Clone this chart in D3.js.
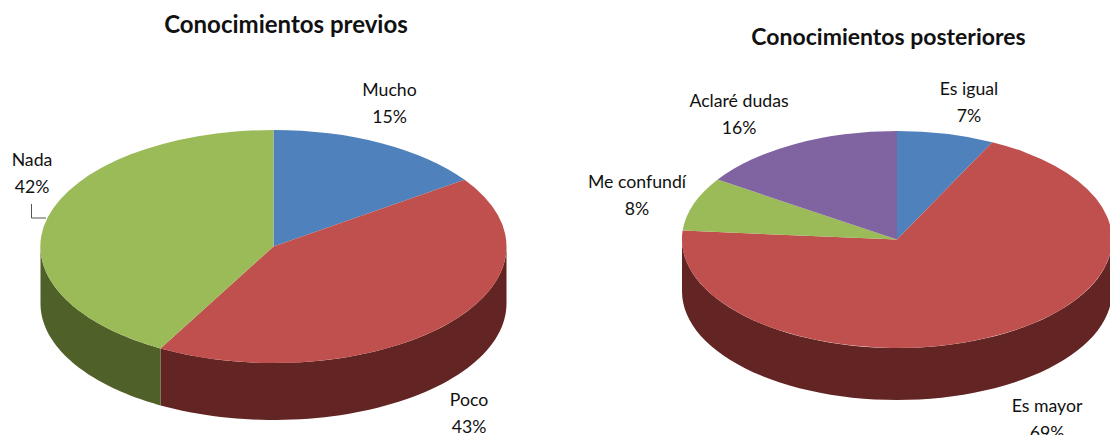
<!DOCTYPE html>
<html><head><meta charset="utf-8">
<script src="https://cdn.jsdelivr.net/npm/d3@7"></script>
<style>html,body{margin:0;background:#fff}svg{display:block}text{font-family:Lato,"Open Sans",sans-serif;font-size:17.7px;fill:#111}</style>
</head><body><svg width="1110" height="435"></svg>
<script>
const categoriesPrev = ["Mucho","Poco","Nada"];
const valuesPrev = [15.3,42.75,41.95];
const categoriesPost = ["Es igual","Es mayor","Me confundí","Aclaré dudas"];
const valuesPost = [7.3,69,8.0,15.7];
const colorsPrev = ["#4f81bd","#c0504d","#9bbb59"];
const darkPrev = ["#2a4565","#632523","#4f6128"];
const colorsPost = ["#4f81bd","#c0504d","#9bbb59","#8064a2"];
const darkPost = ["#2a4565","#632523","#4f6128","#403152"];

const svg = d3.select("svg");
const pct = d3.format(".0f");

function drawPie(o){
  const g = svg.append("g");
  const slices = d3.pie().sort(null)(o.values);
  const px = a => o.cx + o.rx*Math.sin(a);
  const py = a => o.cy - o.ry*Math.cos(a);
  slices.forEach((s,i)=>{
    const a0 = Math.max(s.startAngle, Math.PI/2), a1 = Math.min(s.endAngle, Math.PI*1.5);
    if(a1<=a0) return;
    const pts = d3.range(0,61).map(k=>a0+(a1-a0)*k/60);
    const area = d3.area().x(px).y0(py).y1(a=>py(a)+o.depth);
    g.append("path").attr("d",area(pts)).attr("fill",o.dark[i]);
  });
  const arc = d3.arc().innerRadius(0).outerRadius(1);
  slices.forEach((s,i)=>{
    g.append("path").attr("d",arc(s))
      .attr("transform",`translate(${o.cx},${o.cy}) scale(${o.rx},${o.ry})`)
      .attr("fill",o.colors[i]);
  });
  o.labels.forEach((l,i)=>{
    const t = g.append("text").attr("text-anchor","middle");
    t.append("tspan").attr("x",l[0]).attr("y",l[1]).text(o.categories[i]);
    t.append("tspan").attr("x",l[0]).attr("y",l[1]+27).text(pct(o.values[i])+"%");
  });
  g.append("text").attr("x",o.title[0]).attr("y",o.title[1]).attr("text-anchor","middle")
    .style("font-weight","bold").style("font-size",o.title[2]+"px").text(o.titleText);
}
drawPie({cx:273.5,cy:246.5,rx:233,ry:116.5,depth:57,values:valuesPrev,categories:categoriesPrev,colors:colorsPrev,dark:darkPrev,
  labels:[[389.5,96],[469,405.5],[32,166]],title:[286,33,24],titleText:"Conocimientos previos"});
drawPie({cx:897,cy:239.5,rx:215,ry:108.5,depth:52,values:valuesPost,categories:categoriesPost,colors:colorsPost,dark:darkPost,
  labels:[[969,95],[1047,412],[637,188],[739,107]],title:[888.5,45,23],titleText:"Conocimientos posteriores"});
svg.append("path").attr("d",d3.line()([[31.5,204],[31.5,218],[46,218]])).attr("fill","none").attr("stroke","#555");
</script></body></html>
